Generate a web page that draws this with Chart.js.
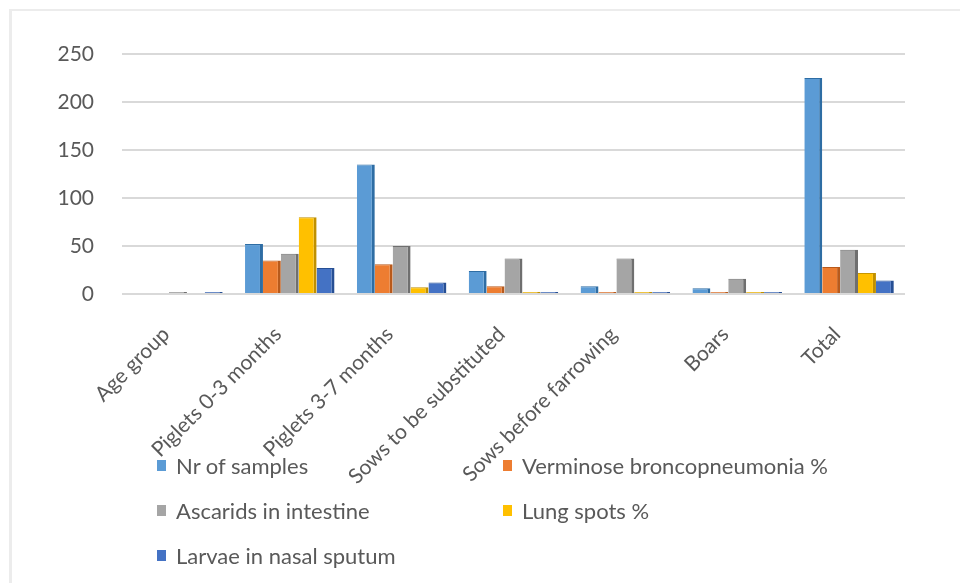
<!DOCTYPE html>
<html>
<head>
<meta charset="utf-8">
<script src="https://cdn.jsdelivr.net/npm/chart.js@4.4.1/dist/chart.umd.min.js"></script>
<style>
  html, body { margin: 0; padding: 0; background: #fff; }
  #wrap { position: relative; width: 960px; height: 583px; overflow: hidden; }
  #frame { position: absolute; left: 9px; top: 9px; width: 960px; height: 600px;
           border-left: 3px solid #ececec; border-top: 2px solid #ececec; }
  #grafico { position: absolute; left: 0; top: 0; }
  #leyenda { position: absolute; left: 157px; top: 443px; width: 700px;
             display: flex; flex-wrap: wrap; font-family: Lato, "Open Sans", sans-serif;
             font-size: 22px; color: #595959; }
  #leyenda .item { width: 346px; height: 45px; display: flex; align-items: center; }
  #leyenda .box { width: 9px; height: 11px; margin-right: 10px; }
</style>
</head>
<body>
<div id="wrap">
  <div id="frame"></div>
  <canvas id="grafico" width="960" height="583"></canvas>
  <div id="leyenda"></div>
</div>
<script>
const categorias = ["Age group", "Piglets 0-3 months", "Piglets 3-7 months",
  "Sows to be substituted", "Sows before farrowing", "Boars", "Total"];

const nrSamples  = [0, 52, 135, 24, 8, 6, 225];
const verminose  = [0, 35, 31, 8, 2, 2, 28];
const ascarids   = [2, 42, 50, 37, 37, 16, 46];
const lungSpots  = [0, 80, 7, 2, 2, 2, 22];
const larvae     = [2, 27, 12, 2, 2, 2, 14];

const yTicks = [0, 50, 100, 150, 200, 250];

const series = [
  { label: "Nr of samples", data: nrSamples, color: "#5b9bd5", side: "#2e6da4" },
  { label: "Verminose broncopneumonia %", data: verminose, color: "#ed7d31", side: "#b85a1c" },
  { label: "Ascarids in intestine", data: ascarids, color: "#a5a5a5", side: "#6f6f6f" },
  { label: "Lung spots %", data: lungSpots, color: "#ffc000", side: "#c09000" },
  { label: "Larvae in nasal sputum", data: larvae, color: "#4472c4", side: "#264f94" }
];

const fuente = "Lato, 'Open Sans', sans-serif";

const ctx = document.getElementById("grafico").getContext("2d");
const chart = new Chart(ctx, {
  type: "bar",
  data: {
    labels: categorias,
    datasets: series.map(s => ({
      label: s.label,
      data: s.data,
      backgroundColor: s.color,
      borderColor: s.side,
      borderWidth: { top: 1, right: 3, left: 0, bottom: 0 },
      categoryPercentage: 0.8,
      barPercentage: 1.0
    }))
  },
  options: {
    responsive: false,
    animation: false,
    layout: { padding: { top: 54, right: 55, left: 0, bottom: 0 } },
    plugins: {
      legend: { display: false },
      tooltip: { enabled: false }
    },
    scales: {
      x: {
        grid: { display: false },
        border: { display: false },
        ticks: {
          color: "#595959",
          font: { family: fuente, size: 21 },
          maxRotation: 45,
          minRotation: 45,
          labelOffset: -12,
          padding: 20
        },
        afterFit: (scale) => { scale.height = 289; }
      },
      y: {
        min: 0,
        max: 250,
        afterBuildTicks: (scale) => { scale.ticks = yTicks.map(v => ({ value: v })); },
        grid: { color: "#d9d9d9", lineWidth: 2, drawTicks: false },
        border: { display: false },
        ticks: {
          color: "#595959",
          font: { family: fuente, size: 21 },
          padding: 28
        },
        afterFit: (scale) => { scale.width = 122; }
      }
    }
  }
});

// leyenda en dos columnas, como en el original
const leyenda = document.getElementById("leyenda");
series.forEach(s => {
  const item = document.createElement("div");
  item.className = "item";
  const box = document.createElement("span");
  box.className = "box";
  box.style.background = s.color;
  const txt = document.createElement("span");
  txt.textContent = s.label;
  item.appendChild(box);
  item.appendChild(txt);
  leyenda.appendChild(item);
});
</script>
</body>
</html>
